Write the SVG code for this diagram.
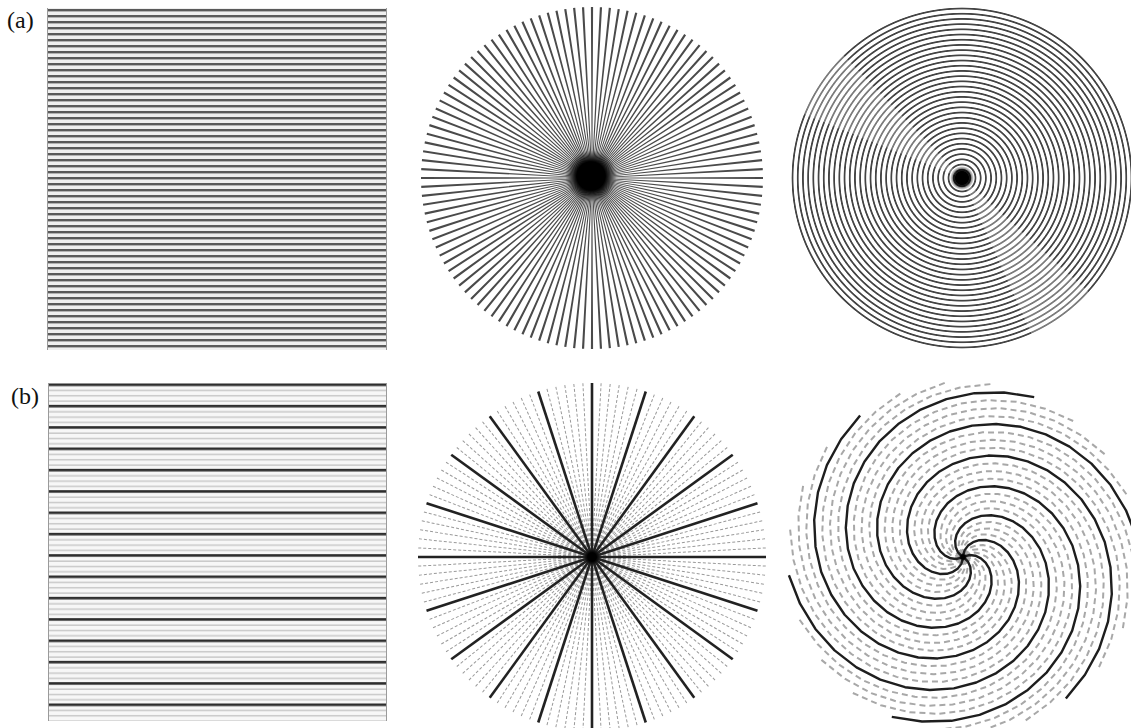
<svg xmlns="http://www.w3.org/2000/svg" xmlns:xlink="http://www.w3.org/1999/xlink" width="1131" height="728" viewBox="0 0 1131 728">
<style>
.lbl{font-family:"Liberation Serif","Times New Roman",serif;font-size:24px;fill:#111}
.ray{fill:#4a4a4a}
.b2d{stroke:#222;stroke-width:2.6}
.b2l{stroke:#9a9a9a;stroke-width:1;stroke-dasharray:3 2}
.sd{fill:none;stroke:#1e1e1e;stroke-width:2.4;stroke-linejoin:round}
.sl{fill:none;stroke:#a8a8a8;stroke-width:2;stroke-dasharray:6 4;stroke-linejoin:round}
.edge{stroke:#9a9a9a;stroke-width:1}
.seam{fill:#fff;fill-opacity:0.3}
</style>
<defs>
<pattern id="pa" patternUnits="userSpaceOnUse" x="47" y="9" width="10" height="6">
<rect width="10" height="6" fill="#efefef"/>
<rect y="0" width="10" height="2.4" fill="#5a5a5a"/>
</pattern>
<pattern id="pb" patternUnits="userSpaceOnUse" x="48" y="383.5" width="10" height="21.333">
<rect width="10" height="21.333" fill="#f7f7f7"/>
<rect y="0" width="10" height="2.6" fill="#2e2e2e"/>
<rect y="6.3" width="10" height="1.4" fill="#c6c6c6"/>
<rect y="11.6" width="10" height="1.4" fill="#c6c6c6"/>
<rect y="16.9" width="10" height="1.4" fill="#c6c6c6"/>
</pattern>
<radialGradient id="rings" gradientUnits="userSpaceOnUse" cx="962" cy="178" r="5.2" spreadMethod="repeat">
<stop offset="0" stop-color="#fff"/>
<stop offset="0.34" stop-color="#fff"/>
<stop offset="0.5" stop-color="#444"/>
<stop offset="0.68" stop-color="#444"/>
<stop offset="0.84" stop-color="#fff"/>
<stop offset="1" stop-color="#fff"/>
</radialGradient>
<radialGradient id="blob">
<stop offset="0" stop-color="#000"/>
<stop offset="0.55" stop-color="#000"/>
<stop offset="1" stop-color="#000" stop-opacity="0"/>
</radialGradient>
<polygon id="ray" points="-171,-1.1 0,-0.35 171,-1.1 171,1.1 0,0.35 -171,1.1"/>
<g id="ray5">
<use xlink:href="#ray"/>
<use xlink:href="#ray" transform="rotate(3)"/>
<use xlink:href="#ray" transform="rotate(6)"/>
<use xlink:href="#ray" transform="rotate(9)"/>
<use xlink:href="#ray" transform="rotate(12)"/>
</g>
<line id="dia" x1="-174" y1="0" x2="174" y2="0"/>
<g id="lite5">
<use xlink:href="#dia" transform="rotate(3)"/>
<use xlink:href="#dia" transform="rotate(6)"/>
<use xlink:href="#dia" transform="rotate(9)"/>
<use xlink:href="#dia" transform="rotate(12)"/>
<use xlink:href="#dia" transform="rotate(15)"/>
</g>
<path id="arm" d="M71.2,-159.9 L41.0,-164.5 L11.5,-163.8 L-16.6,-157.9 L-42.3,-147.4 L-64.8,-132.9 L-83.8,-115.3 L-98.6,-95.2 L-109.2,-73.6 L-115.3,-51.3 L-117.2,-29.2 L-115.1,-8.1 L-109.4,11.5 L-100.5,28.8 L-89.1,43.5 L-75.8,55.1 L-61.4,63.5 L-46.4,68.7 L-31.5,70.8 L-17.4,69.9 L-4.7,66.5 L6.4,60.9 L15.4,53.7 L22.1,45.3 L26.5,36.4 L28.5,27.5 L28.3,19.1 L26.3,11.7 L22.6,5.6 L17.9,1.3 L12.4,-1.3 L6.8,-2.0 L1.5,-0.7 L0,0"/>
<g id="arm3">
<use xlink:href="#arm" transform="rotate(15)"/>
<use xlink:href="#arm" transform="rotate(30)"/>
<use xlink:href="#arm" transform="rotate(45)"/>
</g>
</defs>
<rect width="1131" height="728" fill="#fff"/>

<g id="label-a"><text class="lbl" x="7" y="28">(a)</text></g>
<g id="label-b"><text class="lbl" x="11" y="404">(b)</text></g>

<g id="panel-a1">
<rect x="47" y="8" width="340" height="342" fill="url(#pa)"/>
<line class="edge" x1="47.5" y1="8" x2="47.5" y2="350"/>
<line class="edge" x1="386.5" y1="8" x2="386.5" y2="350"/>
</g>

<g id="panel-a2" transform="translate(592,178)" class="ray">
<use xlink:href="#ray5"/>
<use xlink:href="#ray5" transform="rotate(15)"/>
<use xlink:href="#ray5" transform="rotate(30)"/>
<use xlink:href="#ray5" transform="rotate(45)"/>
<use xlink:href="#ray5" transform="rotate(60)"/>
<use xlink:href="#ray5" transform="rotate(75)"/>
<use xlink:href="#ray5" transform="rotate(90)"/>
<use xlink:href="#ray5" transform="rotate(105)"/>
<use xlink:href="#ray5" transform="rotate(120)"/>
<use xlink:href="#ray5" transform="rotate(135)"/>
<use xlink:href="#ray5" transform="rotate(150)"/>
<use xlink:href="#ray5" transform="rotate(165)"/>
<circle cx="-1" cy="-2" r="26" fill="url(#blob)"/>
</g>

<g id="panel-a3">
<circle cx="962" cy="178" r="171" fill="url(#rings)"/>
<path class="seam" d="M962,178 L802.5,113.6 A172,172 0 0 1 842.5,54.3 Z"/>
<path class="seam" d="M962,178 L1089.8,293.1 A172,172 0 0 1 1032,335.2 Z"/>
<circle cx="962" cy="178" r="12" fill="url(#blob)"/>
</g>

<g id="panel-b1">
<rect x="48" y="383" width="339" height="338" fill="url(#pb)"/>
<line class="edge" x1="48.5" y1="383" x2="48.5" y2="721"/>
<line class="edge" x1="386.5" y1="383" x2="386.5" y2="721"/>
</g>

<g id="panel-b2" transform="translate(592,557)">
<g class="b2l">
<use xlink:href="#lite5"/>
<use xlink:href="#lite5" transform="rotate(18)"/>
<use xlink:href="#lite5" transform="rotate(36)"/>
<use xlink:href="#lite5" transform="rotate(54)"/>
<use xlink:href="#lite5" transform="rotate(72)"/>
<use xlink:href="#lite5" transform="rotate(90)"/>
<use xlink:href="#lite5" transform="rotate(108)"/>
<use xlink:href="#lite5" transform="rotate(126)"/>
<use xlink:href="#lite5" transform="rotate(144)"/>
<use xlink:href="#lite5" transform="rotate(162)"/>
</g>
<g class="b2d">
<use xlink:href="#dia"/>
<use xlink:href="#dia" transform="rotate(18)"/>
<use xlink:href="#dia" transform="rotate(36)"/>
<use xlink:href="#dia" transform="rotate(54)"/>
<use xlink:href="#dia" transform="rotate(72)"/>
<use xlink:href="#dia" transform="rotate(90)"/>
<use xlink:href="#dia" transform="rotate(108)"/>
<use xlink:href="#dia" transform="rotate(126)"/>
<use xlink:href="#dia" transform="rotate(144)"/>
<use xlink:href="#dia" transform="rotate(162)"/>
</g>
<circle r="8" fill="url(#blob)"/>
</g>

<g id="panel-b3" transform="translate(963,557)">
<g class="sl">
<use xlink:href="#arm3"/>
<use xlink:href="#arm3" transform="rotate(60)"/>
<use xlink:href="#arm3" transform="rotate(120)"/>
<use xlink:href="#arm3" transform="rotate(180)"/>
<use xlink:href="#arm3" transform="rotate(240)"/>
<use xlink:href="#arm3" transform="rotate(300)"/>
</g>
<g class="sd">
<use xlink:href="#arm"/>
<use xlink:href="#arm" transform="rotate(60)"/>
<use xlink:href="#arm" transform="rotate(120)"/>
<use xlink:href="#arm" transform="rotate(180)"/>
<use xlink:href="#arm" transform="rotate(240)"/>
<use xlink:href="#arm" transform="rotate(300)"/>
</g>
<circle r="4" fill="url(#blob)"/>
</g>
</svg>
